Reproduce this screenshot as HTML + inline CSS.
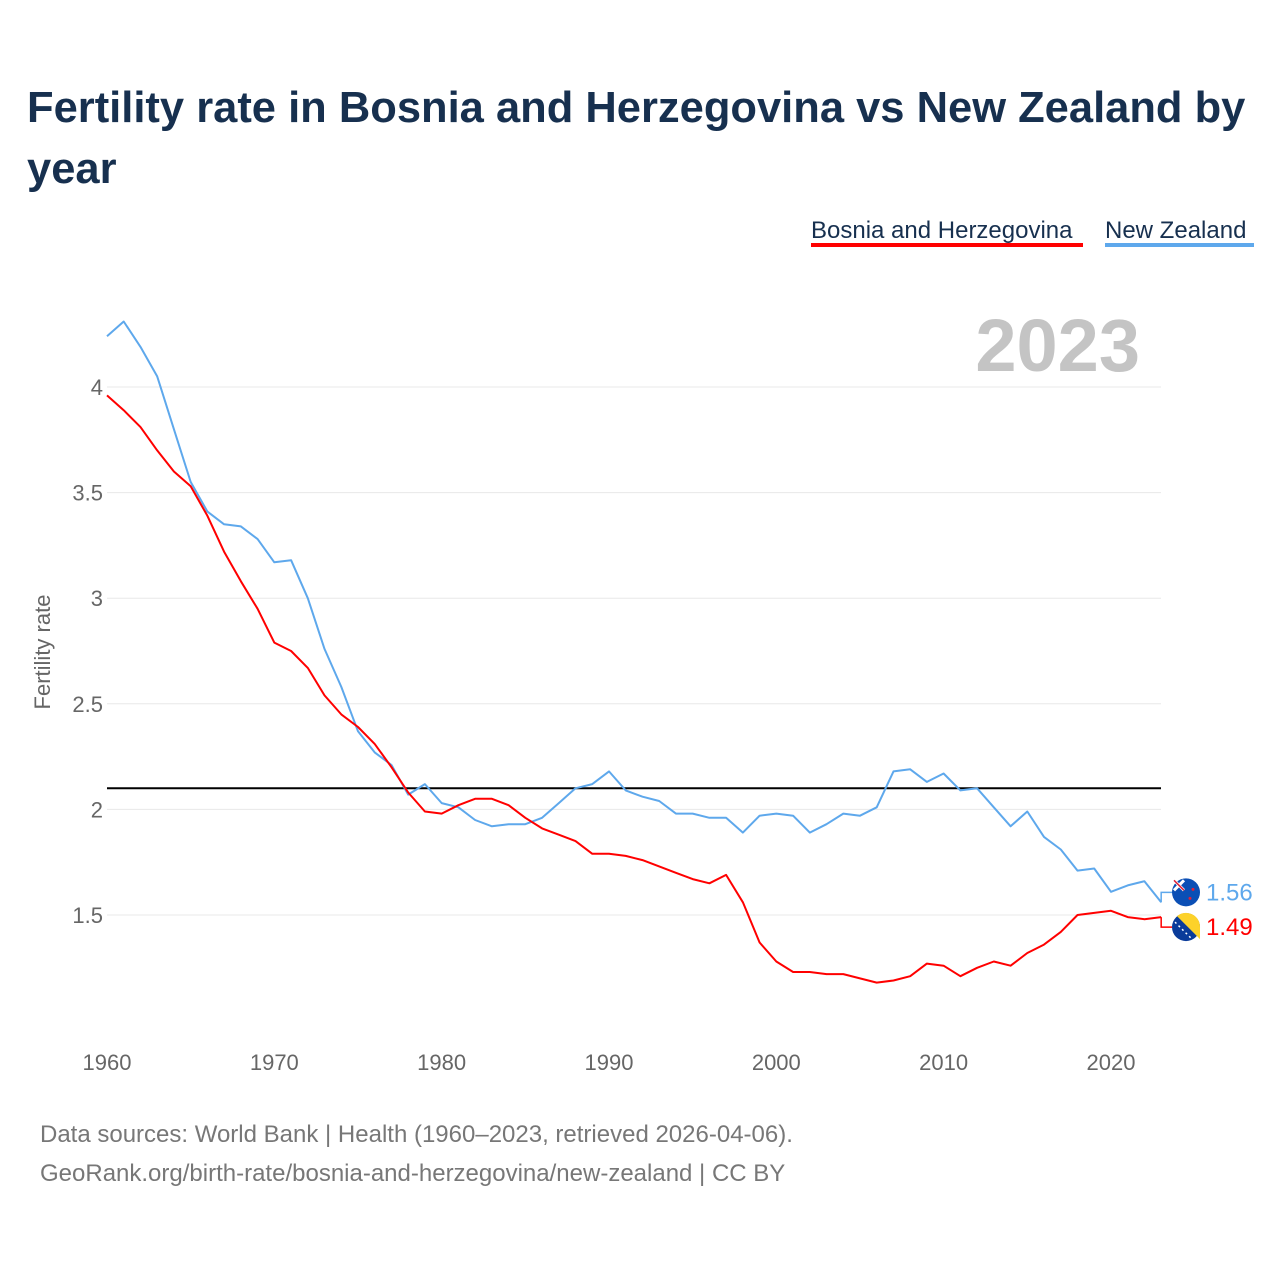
<!DOCTYPE html>
<html><head><meta charset="utf-8">
<style>
html,body{margin:0;padding:0;background:#fff;width:1280px;height:1280px;overflow:hidden}
svg{display:block;font-family:"Liberation Sans",sans-serif}
</style></head><body>
<svg id="chart" width="1280" height="1280" viewBox="0 0 1280 1280">
<text x="27" y="122" font-size="43.5" font-weight="bold" fill="#17304f">Fertility rate in Bosnia and Herzegovina vs New Zealand by</text>
<text x="27" y="183" font-size="43.5" font-weight="bold" fill="#17304f">year</text>
<g>
<text x="811" y="238" font-size="24" fill="#17304f">Bosnia and Herzegovina</text>
<rect x="811" y="243" width="272" height="4" fill="#ff0000"/>
</g>
<g>
<text x="1105" y="238" font-size="24" fill="#17304f">New Zealand</text>
<rect x="1105" y="243" width="149" height="4" fill="#5ea8ec"/>
</g>
<text x="1140" y="371" font-size="74" font-weight="bold" fill="#c4c4c4" text-anchor="end">2023</text>
<text transform="translate(50,652) rotate(-90)" font-size="22" fill="#666" text-anchor="middle">Fertility rate</text>
<g id="grid"></g><g id="ticks"></g><g id="lines"></g>
<text x="40" y="1142" font-size="24" fill="#777">Data sources: World Bank | Health (1960–2023, retrieved 2026-04-06).</text>
<text x="40" y="1181" font-size="24" fill="#777">GeoRank.org/birth-rate/bosnia-and-herzegovina/new-zealand | CC BY</text>
</svg>
<script>
const years=[];for(let y=1960;y<=2023;y++)years.push(y);
const nzValues=[4.24,4.31,4.19,4.05,3.80,3.55,3.41,3.35,3.34,3.28,3.17,3.18,3.00,2.76,2.58,2.37,2.27,2.21,2.07,2.12,2.03,2.01,1.95,1.92,1.93,1.93,1.96,2.03,2.10,2.12,2.18,2.09,2.06,2.04,1.98,1.98,1.96,1.96,1.89,1.97,1.98,1.97,1.89,1.93,1.98,1.97,2.01,2.18,2.19,2.13,2.17,2.09,2.10,2.01,1.92,1.99,1.87,1.81,1.71,1.72,1.61,1.64,1.66,1.56];
const bihValues=[3.96,3.89,3.81,3.70,3.60,3.53,3.39,3.22,3.08,2.95,2.79,2.75,2.67,2.54,2.45,2.39,2.31,2.20,2.08,1.99,1.98,2.02,2.05,2.05,2.02,1.96,1.91,1.88,1.85,1.79,1.79,1.78,1.76,1.73,1.70,1.67,1.65,1.69,1.56,1.37,1.28,1.23,1.23,1.22,1.22,1.20,1.18,1.19,1.21,1.27,1.26,1.21,1.25,1.28,1.26,1.32,1.36,1.42,1.50,1.51,1.52,1.49,1.48,1.49];
const yTicks=[1.5,2,2.5,3,3.5,4];
const xTicks=[1960,1970,1980,1990,2000,2010,2020];
const replacement=2.1;
const X=y=>107+(y-1960)*16.733;
const Y=v=>387+(4-v)*211.2;
const NS="http://www.w3.org/2000/svg";
function mk(tag,attrs,parent){const e=document.createElementNS(NS,tag);for(const k in attrs)e.setAttribute(k,attrs[k]);parent.appendChild(e);return e;}
const grid=document.getElementById('grid'),ticks=document.getElementById('ticks'),lines=document.getElementById('lines');
yTicks.forEach(v=>{
 const l=mk('line',{x1:107,x2:1161,y1:Y(v),y2:Y(v),stroke:'#e8e8e8','stroke-width':1},grid);
 
 
 const t=mk('text',{x:103,y:Y(v)+8,'font-size':22,fill:'#666','text-anchor':'end'},ticks);
 t.textContent=String(v);
 
 
});
xTicks.forEach(v=>{
 const t=mk('text',{x:X(v),y:1070,'font-size':22,fill:'#666','text-anchor':'middle'},ticks);
 t.textContent=String(v);
 
 
});
const rl=mk('line',{x1:107,x2:1161,y1:Y(replacement),y2:Y(replacement),stroke:'#000','stroke-width':2},lines);


function series(vals,color,name){
 const d=vals.map((v,i)=>(i?'L':'M')+X(years[i]).toFixed(1)+','+Y(v).toFixed(1)).join('');
 const p=mk('path',{d:d,fill:'none',stroke:color,'stroke-width':2,'stroke-linejoin':'round'},lines);
 
 
}
series(nzValues,'#5ea8ec','line-new-zealand');
series(bihValues,'#ff0000','line-bosnia');
const nzL=nzValues[nzValues.length-1],bL=bihValues[bihValues.length-1];
const ex=X(2023);
const nzY=Y(nzL)-10,bY=Y(bL)+10;
const c1=mk('path',{d:`M${ex},${Y(nzL)}L${ex},${nzY}L1172,${nzY}`,fill:'none',stroke:'#5ea8ec','stroke-width':1.5},lines);

const c2=mk('path',{d:`M${ex},${Y(bL)}L${ex},${bY}L1172,${bY}`,fill:'none',stroke:'#ff0000','stroke-width':1.5},lines);

const f1=mk('g',{},lines);

mk('circle',{cx:1186,cy:nzY,r:14,fill:'#0b4fb5'},f1);
mk('path',{d:`M1174,${nzY-12}l10,10M1184,${nzY-12}l-10,10`,stroke:'#fff','stroke-width':3},f1);
mk('path',{d:`M1174,${nzY-12}l10,10`,stroke:'#e0203a','stroke-width':1.5},f1);
mk('circle',{cx:1193,cy:nzY-3,r:1.5,fill:'#e0203a'},f1);
mk('circle',{cx:1190,cy:nzY+6,r:1.5,fill:'#e0203a'},f1);
const f2=mk('g',{},lines);

mk('circle',{cx:1186,cy:bY,r:14,fill:'#0a3b9a'},f2);
mk('path',{d:`M1177,${bY-11}A14,14 0 0 1 1200,${bY}L1200,${bY+12}Z`,fill:'#fdd22a'},f2);
mk('path',{d:`M1175,${bY-5}L1192,${bY+12}`,stroke:'#fff','stroke-width':1.5,'stroke-dasharray':'2 3'},f2);
const t1=mk('text',{x:1206,y:nzY+8,'font-size':24,fill:'#5ea8ec'},lines);
t1.textContent=nzL.toFixed(2);

const t2=mk('text',{x:1206,y:bY+8,'font-size':24,fill:'#ff0000'},lines);
t2.textContent=bL.toFixed(2);

</script>
</body></html>
